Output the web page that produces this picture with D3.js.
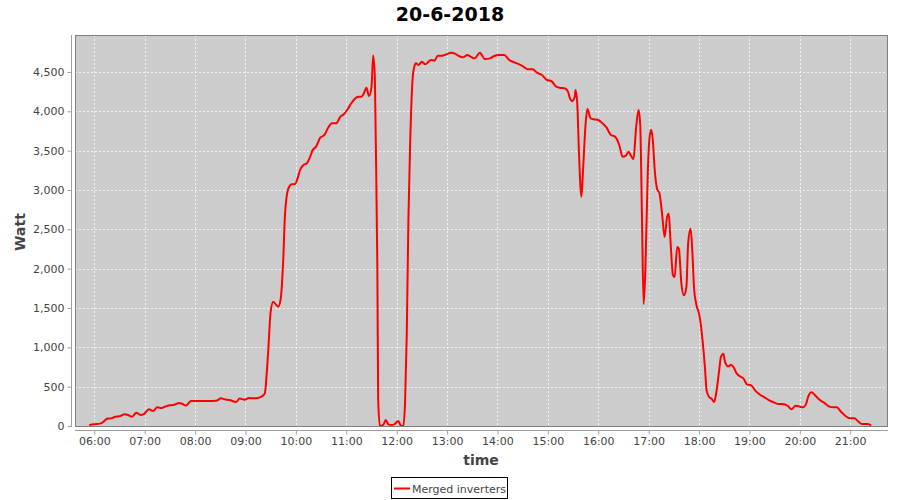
<!DOCTYPE html>
<html>
<head>
<meta charset="utf-8">
<script src="https://cdn.jsdelivr.net/npm/d3@7"></script>
<style>
  html, body { margin: 0; padding: 0; background: #ffffff; }
  svg { display: block; }
</style>
</head>
<body>
<svg id="chart" width="900" height="500"></svg>
<script>
const title = "20-6-2018";
const seriesName = "Merged inverters";
const yLabel = "Watt";
const xLabel = "time";

const times = [
  "05:54","05:59","06:07","06:11","06:15","06:21","06:25","06:30","06:36","06:40",
  "06:45","06:50","06:55","06:59","07:05","07:10","07:15","07:20","07:25","07:30",
  "07:34","07:41","07:45","07:49","07:55","08:00","08:10","08:20","08:25","08:31",
  "08:35","08:41","08:49","08:53","08:59","09:04","09:12","09:19","09:23","09:25",
  "09:27","09:30","09:33","09:36","09:39","09:42","09:45","09:47","09:49","09:52",
  "09:55","09:59","10:02","10:05","10:09","10:13","10:17","10:20","10:24","10:29",
  "10:34","10:38","10:43","10:48","10:53","10:57","11:01","11:06","11:10","11:14",
  "11:18","11:21","11:24","11:27","11:30","11:32","11:34","11:35","11:37","11:38",
  "11:40","11:44","11:47","11:50","11:54","11:57","12:02","12:05","12:08","12:10",
  "12:12","12:14","12:16","12:19","12:21","12:23","12:26","12:30","12:34","12:38",
  "12:41","12:45","12:49","12:54","12:59","13:05","13:10","13:14","13:19","13:24",
  "13:28","13:33","13:39","13:45","13:51","13:56","14:02","14:08","14:14","14:20",
  "14:26","14:31","14:36","14:42","14:47","14:53","14:59","15:04","15:10","15:14",
  "15:20","15:24","15:26","15:29","15:32","15:33","15:35","15:37","15:40","15:42",
  "15:45","15:47","15:51","15:55","16:00","16:05","16:10","16:15","16:20","16:25",
  "16:29","16:33","16:36","16:39","16:42","16:45","16:48","16:50","16:52","16:54",
  "16:56","16:59","17:01","17:03","17:05","17:07","17:10","17:13","17:16","17:19",
  "17:22","17:24","17:26","17:29","17:31","17:34","17:36","17:39","17:42","17:45",
  "17:47","17:50","17:52","17:54","17:57","18:00","18:02","18:04","18:07","18:09",
  "18:12","18:15","18:18","18:20","18:24","18:26","18:29","18:31","18:35","18:38",
  "18:41","18:45","18:49","18:53","18:57","19:02","19:07","19:13","19:18","19:23",
  "19:29","19:34","19:39","19:46","19:50","19:55","20:00","20:03","20:07","20:10",
  "20:14","20:19","20:24","20:30","20:34","20:40","20:44","20:49","20:54","21:00",
  "21:05","21:09","21:14","21:20","21:25"
];

const watts = [
  10,21,30,55,93,100,118,123,148,140,
  118,170,140,152,212,190,237,229,250,263,
  267,292,280,259,318,318,318,318,320,352,
  340,330,305,348,335,356,352,373,415,627,
  945,1453,1580,1546,1517,1623,2131,2682,2915,3042,
  3072,3076,3148,3254,3318,3339,3423,3508,3551,3665,
  3699,3784,3847,3847,3932,3962,4017,4102,4157,4186,
  4186,4229,4301,4195,4300,4710,4450,3700,2000,330,
  0,13,76,21,13,21,64,4,0,309,
  1157,2640,3572,4419,4568,4610,4589,4631,4597,4631,
  4652,4644,4707,4707,4724,4745,4729,4703,4686,4716,
  4695,4673,4745,4665,4673,4703,4716,4716,4652,4623,
  4597,4568,4534,4534,4491,4462,4398,4385,4313,4300,
  4292,4250,4174,4131,4186,4271,4102,3487,2915,3275,
  3847,4029,3911,3898,3890,3847,3792,3699,3678,3572,
  3423,3436,3487,3436,3394,3784,4017,3826,2700,1550,
  1950,3233,3657,3767,3631,3292,3017,2953,2699,2402,
  2657,2699,2360,1915,1894,2275,2254,1809,1661,1767,
  2318,2508,2233,1767,1534,1428,1301,1110,750,453,
  369,347,305,390,708,877,919,813,758,780,
  750,665,630,602,530,517,450,394,364,330,
  301,280,280,254,212,258,246,237,267,373,
  428,381,330,288,254,237,237,182,131,97,
  97,64,25,25,8
];

const xTickLabels = ["06:00","07:00","08:00","09:00","10:00","11:00","12:00","13:00",
  "14:00","15:00","16:00","17:00","18:00","19:00","20:00","21:00"];
const yTickValues = [0,500,1000,1500,2000,2500,3000,3500,4000,4500];

const toMin = s => { const [h, m] = s.split(":").map(Number); return h * 60 + m; };
const data = times.map((t, i) => ({ t: toMin(t), v: watts[i] }));

const svg = d3.select("#chart");
const plot = { left: 75, top: 35, right: 888, bottom: 427 };

const x = d3.scaleLinear().domain([337, 1305]).range([plot.left, plot.right]);
const y = d3.scaleLinear().domain([0, 4970]).range([426, plot.top]);

const font = "'DejaVu Sans', sans-serif";

// Title
svg.append("text")
  .attr("x", 450).attr("y", 21)
  .attr("text-anchor", "middle")
  .attr("font-family", font).attr("font-weight", "bold").attr("font-size", 19)
  .attr("fill", "#000")
  .text(title);

// Plot background
svg.append("rect")
  .attr("x", plot.left).attr("y", plot.top)
  .attr("width", plot.right - plot.left).attr("height", plot.bottom - plot.top)
  .attr("fill", "#cccccc");

// Gridlines
const grid = svg.append("g");
xTickLabels.forEach(lbl => {
  const xx = Math.round(x(toMin(lbl))) + 0.5;
  grid.append("line")
    .attr("x1", xx).attr("x2", xx).attr("y1", plot.top).attr("y2", plot.bottom)
    .attr("stroke", "#ffffff").attr("stroke-opacity", 0.75)
    .attr("stroke-width", 1).attr("stroke-dasharray", "2,2");
});
yTickValues.forEach(v => {
  const yy = Math.round(y(v)) + 0.5;
  grid.append("line")
    .attr("x1", plot.left).attr("x2", plot.right).attr("y1", yy).attr("y2", yy)
    .attr("stroke", "#ffffff").attr("stroke-opacity", 0.75)
    .attr("stroke-width", 1).attr("stroke-dasharray", "2,2");
});

// Clip
svg.append("defs").append("clipPath").attr("id", "clip")
  .append("rect")
  .attr("x", plot.left).attr("y", plot.top)
  .attr("width", plot.right - plot.left).attr("height", plot.bottom - plot.top);

// Line
const line = d3.line()
  .x(d => x(d.t)).y(d => y(d.v))
  .curve(d3.curveMonotoneX);

svg.append("path")
  .datum(data)
  .attr("clip-path", "url(#clip)")
  .attr("d", line)
  .attr("fill", "none")
  .attr("stroke", "#ff0000")
  .attr("stroke-width", 2)
  .attr("stroke-linejoin", "round");

// Plot outline
svg.append("rect")
  .attr("x", plot.left + 0.5).attr("y", plot.top + 0.5)
  .attr("width", plot.right - plot.left - 1).attr("height", plot.bottom - plot.top - 1)
  .attr("fill", "none").attr("stroke", "#808080").attr("stroke-width", 1);

// Y axis
const yAxis = d3.axisLeft(y)
  .tickValues(yTickValues)
  .tickSize(4).tickPadding(3)
  .tickFormat(d3.format(",d"));
const gy = svg.append("g").attr("transform", "translate(71.5,0)").call(yAxis);
gy.select(".domain").attr("stroke", "#a0a0a0").attr("d", `M0,${plot.top}V${plot.bottom}`);
gy.selectAll(".tick line").attr("stroke", "#a0a0a0");
gy.selectAll(".tick text")
  .attr("font-family", font).attr("font-size", 11).attr("fill", "#444444");

// X axis
const xAxis = d3.axisBottom(x)
  .tickValues(xTickLabels.map(toMin))
  .tickSize(4).tickPadding(3)
  .tickFormat((d, i) => xTickLabels[i]);
const gx = svg.append("g").attr("transform", "translate(0,430.5)").call(xAxis);
gx.select(".domain").attr("stroke", "#a0a0a0").attr("d", `M${plot.left},0H${plot.right}`);
gx.selectAll(".tick line").attr("stroke", "#a0a0a0");
gx.selectAll(".tick text")
  .attr("font-family", font).attr("font-size", 11).attr("fill", "#444444");

// Axis labels
svg.append("text")
  .attr("transform", "translate(25,232) rotate(-90)")
  .attr("text-anchor", "middle")
  .attr("font-family", font).attr("font-weight", "bold").attr("font-size", 14)
  .attr("fill", "#444444")
  .text(yLabel);

svg.append("text")
  .attr("x", 481).attr("y", 465)
  .attr("text-anchor", "middle")
  .attr("font-family", font).attr("font-weight", "bold").attr("font-size", 14)
  .attr("fill", "#444444")
  .text(xLabel);

// Legend
const lg = svg.append("g");
lg.append("rect")
  .attr("x", 391.5).attr("y", 477.5).attr("width", 116).attr("height", 21)
  .attr("fill", "#ffffff").attr("stroke", "#000000").attr("stroke-width", 1);
lg.append("line")
  .attr("x1", 394).attr("x2", 410).attr("y1", 488.5).attr("y2", 488.5)
  .attr("stroke", "#ff0000").attr("stroke-width", 2);
lg.append("text")
  .attr("x", 412).attr("y", 492.5)
  .attr("font-family", font).attr("font-size", 11).attr("fill", "#444444")
  .text(seriesName);
</script>
</body>
</html>
